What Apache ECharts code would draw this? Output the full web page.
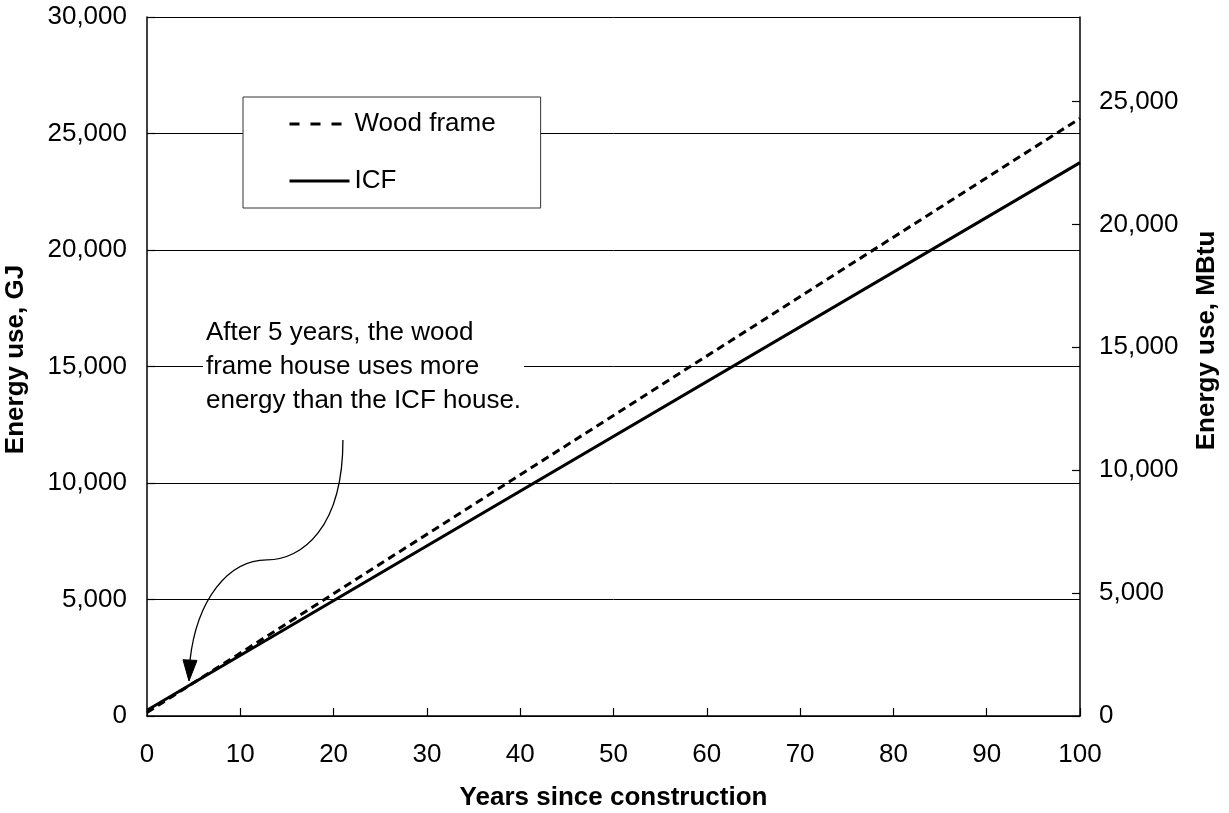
<!DOCTYPE html>
<html><head><meta charset="utf-8">
<script src="https://cdn.jsdelivr.net/npm/echarts@6/dist/echarts.min.js"></script>
<style>html,body{margin:0;padding:0;background:#fff}#c{width:1229px;height:813px}</style>
</head><body><div id="c"></div>
<script>
// ---- data ----
const years = [0, 5, 100];
const woodFrame = [150, 1425, 25650];   // GJ
const icf = [250, 1425, 23750];         // GJ
const seriesNames = ['Wood frame', 'ICF'];
const GJ_PER_MBTU = 1.055056;
const gjMax = 30000;
const annotationLines = ['After 5 years, the wood', 'frame house uses more', 'energy than the ICF house.'];
const annotationAnchor = [6.0, 15000];           // [year, GJ] left / middle-line anchor
// arrow path, in data coordinates [year, GJ]
const arrowSeg1 = [[21.0, 11850], [21.0, 8070], [16.6, 6700], [12.86, 6700]];
const arrowSeg2 = [[12.86, 6700], [8.68, 6700], [5.35, 4980], [4.61, 2400]];
const arrowTip = [4.50, 1500];

const FONT = '"Liberation Sans", Arial, sans-serif';
const fmt = v => Math.round(v).toLocaleString('en-US');

const chart = echarts.init(document.getElementById('c'));
chart.setOption({
  animation: false,
  backgroundColor: '#fff',
  grid: { left: 147, right: 149, top: 17, bottom: 97, containLabel: false, outerBoundsMode: 'none' },
  legend: {
    orient: 'vertical', left: 243, top: 97,
    padding: [14, 45, 14, 45],
    itemWidth: 60, itemHeight: 26, itemGap: 31,
    backgroundColor: '#fff', borderColor: '#333', borderWidth: 1, borderRadius: 0,
    itemStyle: { color: 'transparent', borderWidth: 0, opacity: 0 },
    textStyle: { fontSize: 26, fontFamily: FONT, color: '#000' },
    data: [
      { name: seriesNames[0], lineStyle: { width: 3, type: [10, 11], color: '#000' } },
      { name: seriesNames[1], lineStyle: { width: 3, type: 'solid', color: '#000' } }
    ]
  },
  xAxis: {
    type: 'value', min: 0, max: 100, interval: 10,
    name: 'Years since construction', nameLocation: 'middle', nameGap: 69,
    nameTextStyle: { fontSize: 26, fontWeight: 'bold', fontFamily: FONT, color: '#000' },
    axisLine: { show: true, lineStyle: { color: '#000', width: 1.5 } },
    axisTick: { show: true, inside: true, length: 8, lineStyle: { color: '#000', width: 1.2 } },
    axisLabel: { fontSize: 26, fontFamily: FONT, color: '#000', margin: 26 },
    splitLine: { show: false }
  },
  yAxis: [{
    type: 'value', min: 0, max: gjMax, interval: 5000, position: 'left',
    name: 'Energy use, GJ', nameLocation: 'middle', nameGap: 118, nameRotate: 90,
    nameTextStyle: { fontSize: 26, fontWeight: 'bold', fontFamily: FONT, color: '#000', padding: [0, 0, 0, 14] },
    axisLine: { show: true, lineStyle: { color: '#000', width: 1.5 } },
    axisTick: { show: true, inside: true, length: 8, lineStyle: { color: '#000', width: 1.2 } },
    axisLabel: { fontSize: 26, fontFamily: FONT, color: '#000', margin: 20, formatter: fmt },
    splitLine: { show: true, lineStyle: { color: '#000', width: 1 } }
  }, {
    type: 'value', min: 0, max: gjMax / GJ_PER_MBTU, interval: 5000, position: 'right',
    name: 'Energy use, MBtu', nameLocation: 'middle', nameGap: 114, nameRotate: 90,
    nameTextStyle: { fontSize: 26, fontWeight: 'bold', fontFamily: FONT, color: '#000', padding: [0, 0, 0, 52] },
    axisLine: { show: true, lineStyle: { color: '#000', width: 1.5 } },
    axisTick: { show: true, inside: true, length: 8, lineStyle: { color: '#000', width: 1.2 } },
    axisLabel: { fontSize: 26, fontFamily: FONT, color: '#000', margin: 19, formatter: fmt, showMaxLabel: false },
    splitLine: { show: false }
  }],
  series: [{
    name: seriesNames[0], type: 'line', symbol: 'none', yAxisIndex: 0,
    data: years.map((y, i) => [y, woodFrame[i]]),
    lineStyle: { color: '#000', width: 3, type: [8, 5] }, itemStyle: { color: '#000' }, z: 3
  }, {
    name: seriesNames[1], type: 'line', symbol: 'none', yAxisIndex: 0,
    data: years.map((y, i) => [y, icf[i]]),
    lineStyle: { color: '#000', width: 3, type: 'solid' }, itemStyle: { color: '#000' }, z: 4
  }]
});

function px(p) { return chart.convertToPixel({ gridIndex: 0 }, p); }
function bez(seg) {
  const a = px(seg[0]), b = px(seg[1]), c = px(seg[2]), d = px(seg[3]);
  return { type: 'bezierCurve', shape: { x1: a[0], y1: a[1], cpx1: b[0], cpy1: b[1], cpx2: c[0], cpy2: c[1], x2: d[0], y2: d[1] },
           style: { stroke: '#000', lineWidth: 1.3, fill: null }, z: 10 };
}
const base = px(arrowSeg2[3]), tip = px(arrowTip);
const dx = tip[0] - base[0], dy = tip[1] - base[1], L = Math.hypot(dx, dy);
const nx = -dy / L * 7, ny = dx / L * 7;
const anc = px(annotationAnchor);
chart.setOption({
  graphic: [
    bez(arrowSeg1), bez(arrowSeg2),
    { type: 'polygon', shape: { points: [[base[0] + nx, base[1] + ny], [base[0] - nx, base[1] - ny], tip] },
      style: { fill: '#000', stroke: '#000', lineWidth: 1 }, z: 10 },
    { type: 'text', x: anc[0], y: anc[1], z: 10,
      style: { text: annotationLines.join('\n'), fontSize: 26, fontFamily: FONT, fill: '#000',
               lineHeight: 34, align: 'left', verticalAlign: 'middle',
               backgroundColor: '#fff', padding: [4, 3, 4, 3] } }
  ]
});
</script></body></html>
